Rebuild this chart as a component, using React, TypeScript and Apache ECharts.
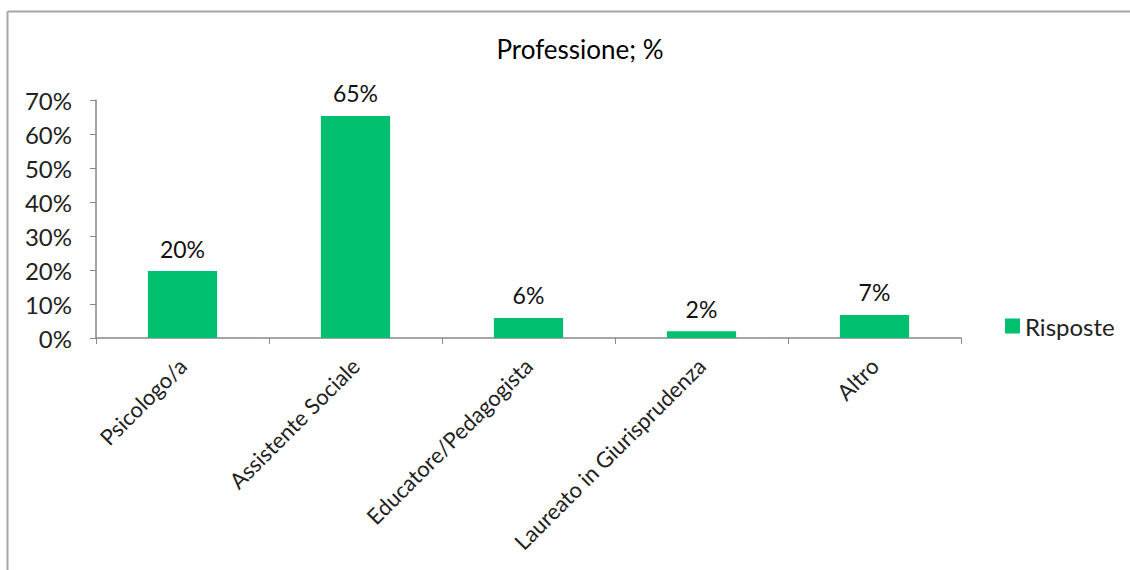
import React, { useEffect, useRef } from "react";
import * as echarts from "echarts";

const categories = ["Psicologo/a", "Assistente Sociale", "Educatore/Pedagogista", "Laureato in Giurisprudenza", "Altro"];
const values = [19.7, 65.3, 5.9, 2.0, 6.8];
const seriesName = "Risposte";
const titleText = "Professione; %";

export default function App() {
  const ref = useRef<HTMLDivElement>(null);
  useEffect(() => {
    if (!ref.current) return;
    const chart = echarts.init(ref.current, null, { renderer: "svg" });
    const font = "Lato, 'Open Sans', sans-serif";
    chart.setOption({
      animation: false,
      textStyle: { fontFamily: font },
      title: {
        text: titleText,
        left: 575,
        top: 31,
        textAlign: "center",
        textStyle: { fontFamily: font, fontSize: 26, fontWeight: "normal", color: "#000" },
      },
      legend: {
        data: [seriesName],
        left: 1000,
        top: 309,
        itemWidth: 15,
        itemHeight: 15,
        itemGap: 6,
        icon: "rect",
        textStyle: { fontFamily: font, fontSize: 24, color: "#222" },
      },
      grid: { left: 96, right: 169, top: 100, bottom: 232, containLabel: false },
      xAxis: {
        type: "category",
        data: categories,
        axisLine: { lineStyle: { color: "#888", width: 1.5 } },
        axisTick: { show: true, length: 6, lineStyle: { color: "#888" } },
        axisLabel: { rotate: 45, fontSize: 22, color: "#222", margin: 24, fontFamily: font },
      },
      yAxis: {
        type: "value",
        min: 0,
        max: 70,
        interval: 10,
        splitLine: { show: false },
        axisLine: { show: true, lineStyle: { color: "#888", width: 1.5 } },
        axisTick: { show: true, length: 6, lineStyle: { color: "#888" } },
        axisLabel: { fontSize: 24, color: "#222", margin: 24, formatter: "{value}%", fontFamily: font },
      },
      series: [
        {
          name: seriesName,
          type: "bar",
          data: values,
          barWidth: "40%",
          itemStyle: { color: "#00BF6F" },
          label: {
            show: true,
            position: "top",
            distance: 11,
            fontSize: 23,
            color: "#111",
            fontFamily: font,
            formatter: (p: any) => Math.round(p.value) + "%",
          },
        },
      ],
      graphic: [
        { type: "line", shape: { x1: 7.5, y1: 11.5, x2: 1130, y2: 11.5 }, style: { stroke: "#a6a6a6", lineWidth: 2 } },
        { type: "line", shape: { x1: 7.5, y1: 11.5, x2: 7.5, y2: 570 }, style: { stroke: "#a6a6a6", lineWidth: 2 } },
      ],
    });
    return () => chart.dispose();
  }, []);
  return <div ref={ref} style={{ position: "fixed", left: 0, top: 0, width: 1130, height: 570, background: "#fff" }} />;
}
